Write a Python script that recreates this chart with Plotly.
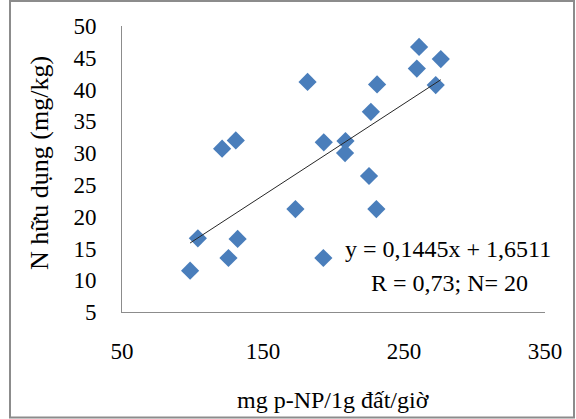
import plotly.graph_objects as go

# enzyme activity (mg p-NP / 1g soil / hour) vs available N (mg/kg)
enzyme = [260.7, 276.1, 259.1, 272.5, 181.6, 230.9, 226.5, 130.7, 121.0, 193.1,
          208.5, 208.2, 225.2, 173.0, 230.4, 103.8, 132.0, 125.5, 192.8, 98.3]
n_avail = [46.7, 44.8, 43.3, 40.7, 41.2, 40.8, 36.5, 32.0, 30.7, 31.7,
           31.9, 30.0, 26.4, 21.2, 21.2, 16.6, 16.5, 13.5, 13.5, 11.5]

slope, intercept = 0.1445, 1.6511
eq_text = "y = 0,1445x + 1,6511"
stat_text = "R = 0,73; N= 20"

FONT = "Liberation Serif, Times New Roman, serif"
BLUE = "#4a7ebb"
AXIS = "#8c8c8c"

fig = go.Figure()
fig.add_trace(go.Scatter(
    x=enzyme, y=n_avail, mode="markers",
    marker=dict(symbol="diamond", size=14, color=BLUE, line=dict(width=0)),
    showlegend=False,
))

# linear trendline across the data range
x_fit = [min(enzyme), max(enzyme)]
fig.add_trace(go.Scatter(
    x=x_fit, y=[slope * v + intercept for v in x_fit], mode="lines",
    line=dict(color="#262626", width=1), showlegend=False,
))

W, H = 576, 419
L, R, T, B = 122, 31, 26, 107
pw, ph = W - L - R, H - T - B


def px(x):
    return (x - L) / pw


def py(y):
    return (H - B - y) / ph


def label(text, x, y, size, **kw):
    return dict(text=text, x=px(x), y=py(y), xref="paper", yref="paper",
                xanchor="center", yanchor="middle", showarrow=False,
                font=dict(size=size), **kw)


fig.update_layout(
    width=W, height=H,
    margin=dict(l=L, r=R, t=T, b=B),
    paper_bgcolor="white", plot_bgcolor="white",
    font=dict(family=FONT, size=23, color="black"),
    xaxis=dict(range=[50, 350], dtick=100, tick0=50, showgrid=False,
               zeroline=False, showline=True, linecolor=AXIS, linewidth=1,
               ticks="", ticklabelstandoff=18),
    yaxis=dict(range=[5, 50], dtick=5, tick0=5, showgrid=False,
               zeroline=False, showline=True, linecolor=AXIS, linewidth=1,
               ticks="", ticklabelstandoff=20),
    annotations=[
        label(eq_text, 448, 249, 24),
        label(stat_text, 449, 283, 24),
        label("N hữu dụng (mg/kg)", 39, 163, 26, textangle=-90),
        label("mg p-NP/1g đất/giờ", 333, 400, 24),
    ],
    shapes=[dict(type="rect", xref="paper", yref="paper", layer="above",
                 x0=px(10), x1=px(574), y0=py(417.5), y1=py(1),
                 line=dict(color=AXIS, width=2))],
)

fig.write_html("out.html", config={"displayModeBar": False},
               post_script="document.body.style.margin='0';")
